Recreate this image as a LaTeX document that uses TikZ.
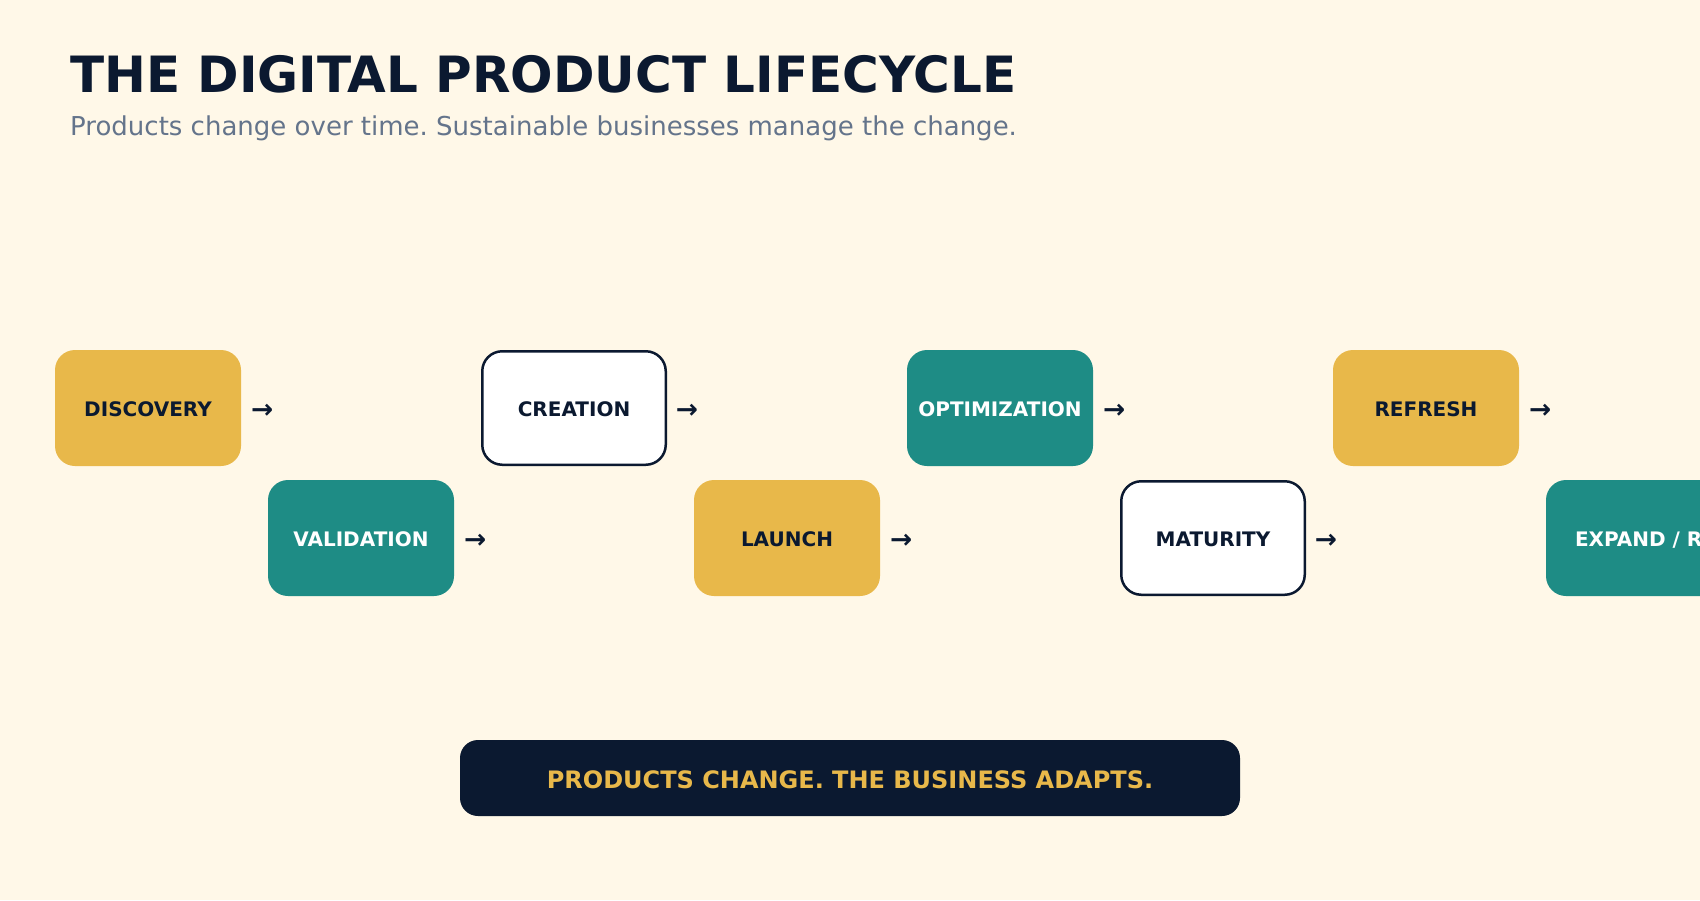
\documentclass[tikz,border=0pt]{standalone}
\usepackage{fontspec}
\setmainfont{DejaVu Sans}
\usetikzlibrary{calc}
\definecolor{bgcream}{HTML}{FFF8E8}
\definecolor{gold}{HTML}{E8B84A}
\definecolor{teal}{HTML}{1E8C85}
\definecolor{navy}{HTML}{0B1930}
\definecolor{subgray}{HTML}{64748B}
\frenchspacing
\begin{document}
\begin{tikzpicture}[x=1pt,y=-1pt,
  stagebox/.style={rounded corners=20pt, minimum width=186pt, minimum height=116pt,
    inner sep=0pt, outer sep=0pt, font=\bfseries\fontsize{20}{20}\selectfont,
    text height=16.6pt, text depth=0pt},
  goldbox/.style={stagebox, fill=gold, text=navy},
  tealbox/.style={stagebox, fill=teal, text=white},
  whitebox/.style={stagebox, fill=white, draw=navy, line width=2.5pt, text=navy,
    minimum width=183.5pt, minimum height=113.5pt},
  arrowtxt/.style={anchor=base west, inner sep=0pt, text=navy, font=\bfseries\fontsize{26.5}{26.5}\selectfont},
  bannerbox/.style={rounded corners=18pt, fill=navy, text=gold, minimum width=780pt,
    minimum height=76pt, inner sep=0pt, font=\bfseries\fontsize{24}{24}\selectfont,
    text height=21.5pt, text depth=0pt}
]
\useasboundingbox (0,0) rectangle (1700,900);
\fill[bgcream] (0,0) rectangle (1700,900);

\node[anchor=base west, inner sep=0pt, text=navy, font=\bfseries\fontsize{50}{60}\selectfont] (title) at (70,92) {THE DIGITAL PRODUCT LIFECYCLE};
\node[anchor=base west, inner sep=0pt, text=subgray, font=\fontsize{26}{30}\selectfont] (subtitle) at (70,135) {Products change over time. Sustainable businesses manage the change.};

\node[goldbox]  (discovery)    at (148,408)  {DISCOVERY};
\node[tealbox]  (validation)   at (361,538)  {VALIDATION};
\node[whitebox] (creation)     at (574,408)  {CREATION};
\node[goldbox]  (launch)       at (787,538)  {LAUNCH};
\node[tealbox]  (optimization) at (1000,408) {OPTIMIZATION};
\node[whitebox] (maturity)     at (1213,538) {MATURITY};
\node[goldbox]  (refresh)      at (1426,408) {REFRESH};
\node[tealbox, anchor=west, inner xsep=29pt, minimum width=0pt] (expand) at (1546,538) {EXPAND / R};

\foreach \b in {discovery,validation,creation,launch,optimization,maturity,refresh}{
  \node[arrowtxt] (arr-\b) at ($(\b.east)+(10,10.5)$) {→};
}

\node[bannerbox] (banner) at (850,778) {PRODUCTS CHANGE. THE BUSINESS ADAPTS.};
\end{tikzpicture}
\end{document}
